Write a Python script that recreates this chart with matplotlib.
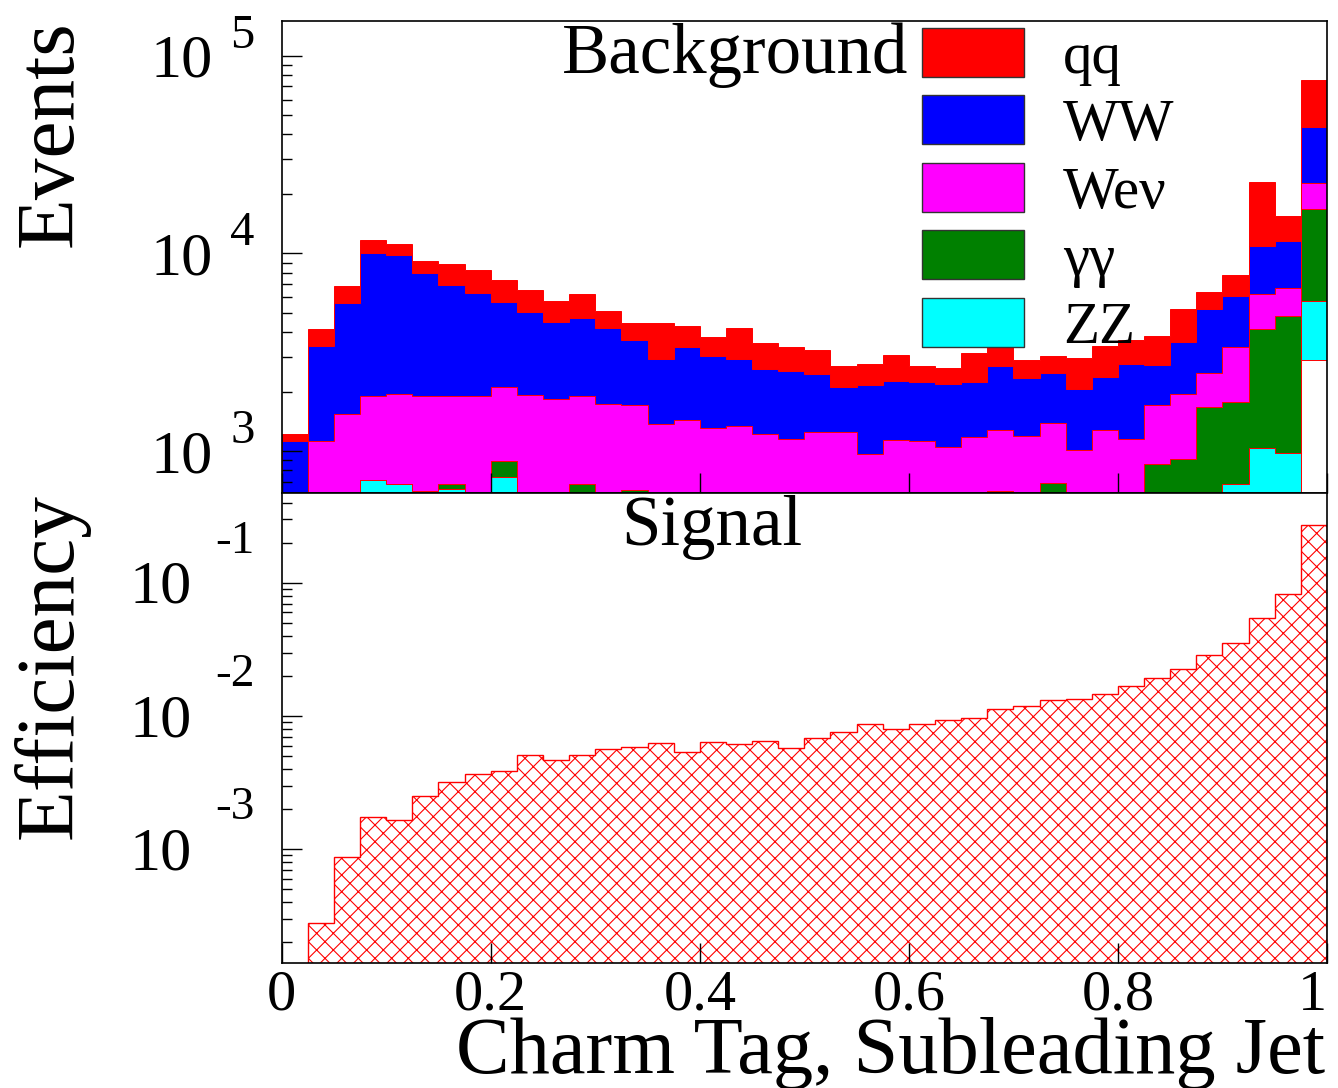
import matplotlib.pyplot as plt
import numpy as np
from matplotlib.patches import Rectangle
from matplotlib.transforms import offset_copy

plt.rcParams['font.family'] = ['Liberation Serif', 'DejaVu Sans']
plt.rcParams['hatch.linewidth'] = 0.8

# 40 bins of charm tag, subleading jet
edges = np.linspace(0, 1, 41)

# background events per bin (stacked)
qq = [100, 716, 1275, 1597, 1296, 1193, 1880, 1911, 1634, 1455,
      1283, 1500, 923, 787, 1539, 943, 737, 1255, 920, 846,
      791, 586, 581, 800, 456, 442, 877, 803, 559, 536,
      869, 1019, 895, 1095, 1636, 1191, 1661, 12155, 3900, 31600]
ww = [678, 2283, 4034, 8127, 7851, 6041, 5005, 4412, 3586, 3141,
      2645, 2828, 2465, 1963, 1540, 1911, 1719, 1582, 1370, 1388,
      1204, 859, 1207, 1122, 1112, 1146, 1061, 1415, 1159, 1104,
      1063, 1101, 1618, 1014, 1630, 2737, 2735, 4692, 4847, 21140]
wev = [450, 1128, 1551, 1196, 1271, 1282, 1226, 1912, 1211, 1303,
       1210, 1218, 1742, 1069, 1380, 1435, 1317, 1338, 1228, 1150,
       1248, 1257, 966, 1137, 1124, 1052, 1182, 657, 1191, 702,
       1012, 1277, 1159, 850, 1025, 796, 1597, 2075, 1880, 5890]
gg = [0, 0, 0, 0, 0, 0, 44, 0, 152, 0,
      0, 680, 0, 640, 0, 0, 0, 0, 0, 0,
      0, 0, 0, 0, 0, 0, 0, 630, 0, 694,
      0, 0, 0, 859, 918, 1056, 1097, 3087, 3839, 10960]
zz = [0, 0, 0, 716, 686, 630, 642, 0, 745, 625,
      623, 0, 0, 0, 0, 0, 0, 0, 0, 0,
      0, 0, 0, 0, 0, 0, 0, 0, 0, 0,
      0, 0, 0, 0, 0, 620, 680, 1040, 981, 2854]
other = [0] * 39 + [2886]

# signal efficiency per bin
signal = [0, 2.79e-4, 8.71e-4, 1.748e-3, 1.66e-3, 2.51e-3, 3.22e-3, 3.69e-3, 3.89e-3, 5.07e-3,
          4.68e-3, 5.07e-3, 5.65e-3, 5.89e-3, 6.24e-3, 5.34e-3, 6.38e-3, 6.13e-3, 6.53e-3, 5.72e-3,
          6.80e-3, 7.54e-3, 8.66e-3, 7.94e-3, 8.76e-3, 9.33e-3, 9.61e-3, 1.122e-2, 1.20e-2, 1.318e-2,
          1.334e-2, 1.454e-2, 1.679e-2, 1.94e-2, 2.265e-2, 2.90e-2, 3.55e-2, 5.43e-2, 8.32e-2, 0.2707]

labels = ['qq', 'WW', 'Weν', 'γγ', 'ZZ']
colors = ['#ff0000', '#0000ff', '#ff00ff', '#008000', '#00ffff']

fig = plt.figure(figsize=(13.38, 10.88), dpi=100)
ax1 = fig.add_axes([0.2105, 0.5469, 0.7813, 0.4338])
ax2 = fig.add_axes([0.2105, 0.1149, 0.7813, 0.4320])

floor = 1e-9

# stack drawn ROOT-like: total first, then each partial sum on top of it
comps = [other, zz, gg, wev, ww, qq]
ccols = ['white', '#00ffff', '#008000', '#ff00ff', '#0000ff', '#ff0000']
cum = np.cumsum(np.array(comps, dtype=float), axis=0)
for i in reversed(range(len(comps))):
    ax1.stairs(np.maximum(cum[i], floor), edges, baseline=floor, fill=True,
               facecolor=ccols[i], edgecolor='red', linewidth=0.7)

ax2.stairs(np.maximum(np.array(signal), floor), edges, baseline=floor, fill=True,
           facecolor='none', edgecolor='red', hatch='xx', linewidth=1.0)

ax1.set_yscale('log')
ax2.set_yscale('log')
ax1.set_ylim(615, 1.498e5)
ax2.set_ylim(1.403e-4, 0.4734)
for ax in (ax1, ax2):
    ax.set_xlim(0, 1)
    ax.set_xticks([0, 0.2, 0.4, 0.6, 0.8, 1])
    ax.minorticks_off()
    ax.yaxis.set_minor_locator(plt.matplotlib.ticker.LogLocator(subs=np.arange(2, 10), numticks=20))
    ax.tick_params(which='major', direction='in', length=14.4, width=1, top=False, right=False)
    ax.tick_params(which='minor', direction='in', length=7.2, width=1, top=False, right=False)
    ax.set_yticklabels([])
    ax.set_yticklabels([], minor=True)
    for s in ax.spines.values():
        s.set_linewidth(1.2)

ax1.set_xticklabels([])
ax2.set_xticklabels(['0', '0.2', '0.4', '0.6', '0.8', '1'])
ax2.tick_params(axis='x', labelsize=42, pad=5)
ax2.get_xticklabels()[-1].set_horizontalalignment('right')

# ROOT style power labels
tr1 = ax1.get_yaxis_transform()
for e in [3, 4, 5]:
    ax1.text(-0.0657, 10.0 ** e, '10', transform=offset_copy(tr1, fig, y=-21, units='dots'),
             ha='right', va='baseline', fontsize=44.7)
    ax1.text(-0.0494, 10.0 ** e, str(e), transform=offset_copy(tr1, fig, y=8, units='dots'),
             ha='left', va='baseline', fontsize=35)
tr2 = ax2.get_yaxis_transform()
for e in [-1, -2, -3]:
    ax2.text(-0.0858, 10.0 ** e, '10', transform=offset_copy(tr2, fig, y=-20, units='dots'),
             ha='right', va='baseline', fontsize=44.7)
    ax2.text(-0.0638, 10.0 ** e, str(e), transform=offset_copy(tr2, fig, y=30, units='dots'),
             ha='left', va='baseline', fontsize=34)

# axis titles
fig.text(72 / 1338, 1 - 20 / 1088, 'Events', rotation=90, rotation_mode='anchor',
         ha='right', va='baseline', fontsize=60)
fig.text(72 / 1338, 1 - 493 / 1088, 'Efficiency', rotation=90, rotation_mode='anchor',
         ha='right', va='baseline', fontsize=60)
fig.text(1325 / 1338, 1 - 1073 / 1088, 'Charm Tag, Subleading Jet',
         ha='right', va='baseline', fontsize=58)

ax1.text(0.2679, 0.8892, 'Background', transform=ax1.transAxes, fontsize=51,
         ha='left', va='baseline')
ax2.text(0.3253, 0.8894, 'Signal', transform=ax2.transAxes, fontsize=51,
         ha='left', va='baseline')

# legend boxes
for k in range(5):
    yb = 0.8814 - k * 0.143
    ax1.add_patch(Rectangle((0.6126, yb), 0.0976, 0.1038, transform=ax1.transAxes,
                            facecolor=colors[k], edgecolor='#333333', linewidth=1, zorder=5))
    ax1.text(0.7475, yb + 0.0085, labels[k], transform=ax1.transAxes, fontsize=42.5,
             ha='left', va='baseline', zorder=6)

fig.savefig('out.png', dpi=100)
